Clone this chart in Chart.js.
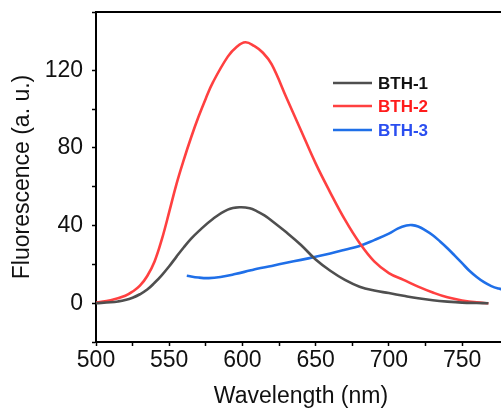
<!DOCTYPE html>
<html>
<head>
<meta charset="utf-8">
<script src="https://cdn.jsdelivr.net/npm/chart.js@4.4.1/dist/chart.umd.min.js"></script>
<style>
html,body{margin:0;padding:0;background:#fff;overflow:hidden;width:501px;height:410px;}
canvas{display:block;}
</style>
</head>
<body>
<canvas id="c" width="506" height="410"></canvas>
<script>
const seriesNames = ["BTH-1", "BTH-2", "BTH-3"];
const lineColors = ["#4f4f4f", "#ff4040", "#1f6fe8"];
const textColors = ["#111111", "#ff1c1c", "#2a4ef0"];

const wl1 = [500,510,515,520,525,530,535,540,545,550,555,560,565,570,580,590,598,605,610,615,620,630,640,650,660,670,680,690,700,710,720,730,740,750,760,768];
const v1  = [0,0.5,0.9,1.6,2.8,4.6,7,10.5,14.5,19,24,28.8,33.2,37,43.5,48.2,49.4,48.9,47.3,45.2,42.5,36.5,30,22.5,16.7,12,8.5,6.5,5.2,3.8,2.5,1.5,0.8,0.3,0.1,0];

const wl2 = [500,510,520,525,530,535,540,545,550,555,560,565,570,575,580,590,596,602,608,614,620,630,640,650,660,670,680,690,700,710,720,730,740,750,760,768];
const v2  = [0.3,1.5,3.8,6,9,14,21.5,33,47,61.5,74,85.5,96,105.5,114,127,132,134.4,132.5,129,123,106,89,72,57,43,31,21.5,15.5,12,8.5,5.5,3,1.4,0.4,0];

const wl3 = [562,570,577,585,595,605,610,620,630,640,650,660,670,680,690,700,706,712,716,720,725,730,735,740,745,750,755,760,765,770,775,780,785];
const v3  = [14.1,13.2,12.9,13.5,15,16.8,17.7,19.2,20.8,22.3,23.9,25.6,27.5,29.5,32.5,35.8,38.4,40,40.2,39.5,37.5,35,31.8,28.3,24.5,20.6,16.7,13.5,10.8,8.8,7.5,6.6,5.8];

const xTicksMajor = [500,550,600,650,700,750];
const yTicksMajor = [0,40,80,120];

const toPts = (xs, ys) => xs.map((x, i) => ({x: x, y: ys[i]}));
const allWl = [wl1, wl2, wl3];
const allV = [v1, v2, v3];

const datasets = seriesNames.map((n, i) => ({
  label: n,
  data: toPts(allWl[i], allV[i]),
  borderColor: lineColors[i],
  borderWidth: 2.6,
  pointRadius: 0,
  fill: false,
  tension: 0.4
}));

const frame = {
  id: 'frame',
  afterDraw(chart) {
    const {ctx, chartArea: a} = chart;
    ctx.save();
    ctx.strokeStyle = '#000';
    ctx.lineWidth = 2;
    ctx.beginPath();
    ctx.moveTo(a.left - 1, a.top);
    ctx.lineTo(a.right + 1, a.top);
    ctx.lineTo(a.right, a.bottom);
    ctx.stroke();
    ctx.restore();
  }
};

const legendBox = {
  id: 'legendBox',
  afterDraw(chart) {
    const ctx = chart.ctx;
    ctx.save();
    ctx.font = 'bold 17px "Liberation Sans", Arial, sans-serif';
    ctx.textBaseline = 'middle';
    const x0 = 333, x1 = 372, tx = 378;
    const ys = [83, 106, 130];
    chart.data.datasets.forEach((d, i) => {
      ctx.strokeStyle = d.borderColor;
      ctx.lineWidth = 2.6;
      ctx.beginPath();
      ctx.moveTo(x0, ys[i]);
      ctx.lineTo(x1, ys[i]);
      ctx.stroke();
      ctx.fillStyle = textColors[i];
      ctx.fillText(d.label, tx, ys[i] + 1);
    });
    ctx.restore();
  }
};

const font = {family: '"Liberation Sans", Arial, sans-serif', size: 23};

new Chart(document.getElementById('c'), {
  type: 'line',
  data: {datasets},
  plugins: [frame, legendBox],
  options: {
    responsive: false,
    animation: false,
    layout: {padding: {top: 12, right: 0, left: 0, bottom: 0}},
    plugins: {legend: {display: false}, tooltip: {enabled: false}},
    scales: {
      x: {
        type: 'linear',
        min: 500, max: 780,
        afterFit(s) { s.height = 68; s.paddingLeft = 0; s.paddingRight = 0; },
        border: {display: true, color: '#000', width: 2},
        grid: {drawOnChartArea: false, drawTicks: true, tickLength: 4, tickColor: '#000', tickWidth: 1.5},
        ticks: {
          stepSize: 25, color: '#111', font, padding: 1, maxRotation: 0, autoSkip: false,
          callback: v => xTicksMajor.includes(v) ? String(v) : ''
        },
        title: {display: true, text: 'Wavelength (nm)', color: '#111', font, padding: {top: 0, bottom: 0}}
      },
      y: {
        min: -20, max: 150,
        afterFit(s) { s.width = 96; s.paddingTop = 0; s.paddingBottom = 0; },
        border: {display: true, color: '#000', width: 2},
        grid: {drawOnChartArea: false, drawTicks: true, tickLength: 4, tickColor: '#000', tickWidth: 1.5},
        ticks: {
          stepSize: 20, color: '#111', font, padding: 9, autoSkip: false,
          callback: v => yTicksMajor.includes(v) ? String(v) : ''
        },
        title: {display: true, text: 'Fluorescence (a. u.)', color: '#111', font, padding: {top: 9, bottom: 0}}
      }
    }
  }
});
</script>
</body>
</html>
